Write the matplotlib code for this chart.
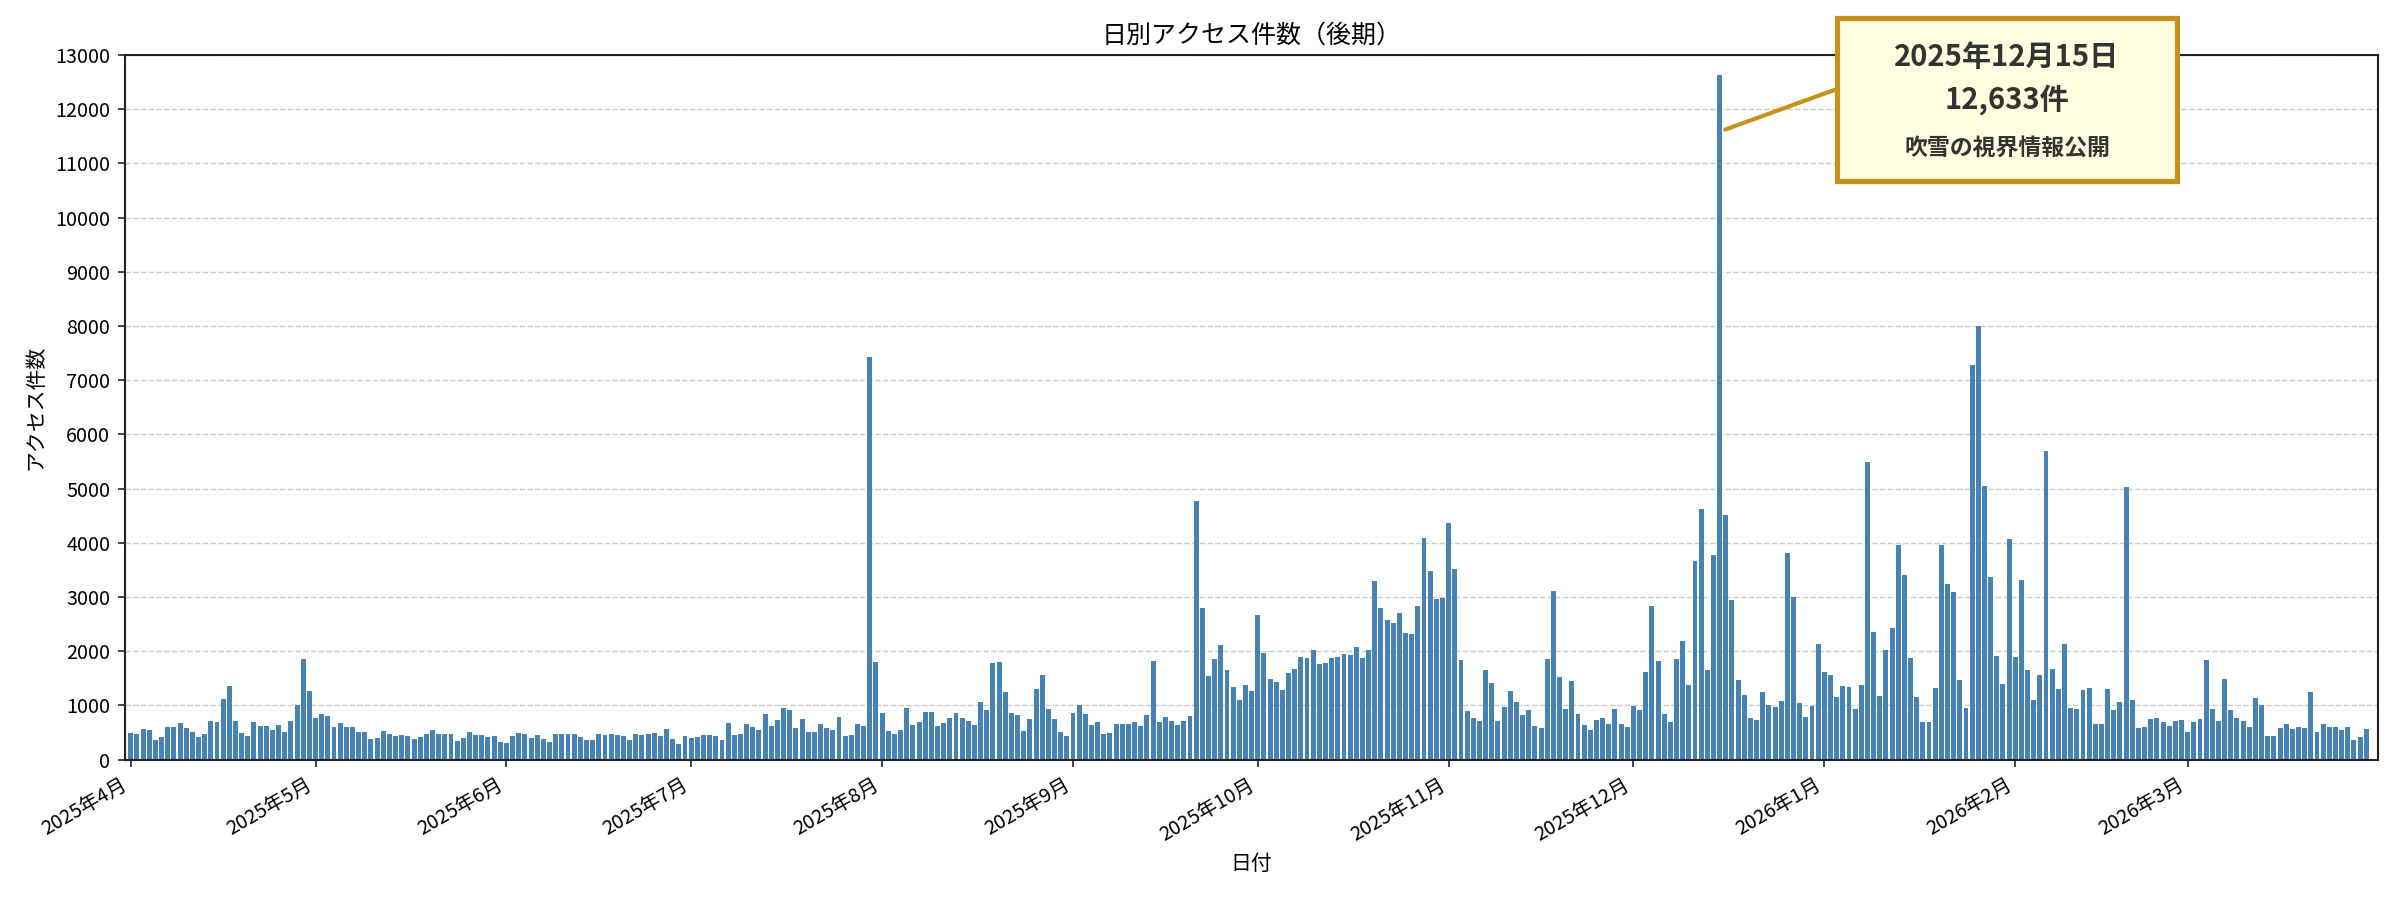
import numpy as np
import pandas as pd
import matplotlib
matplotlib.use('Agg')
import matplotlib.pyplot as plt
import matplotlib.dates as mdates
from matplotlib.patches import Rectangle
from matplotlib.ticker import FuncFormatter, MultipleLocator, FixedLocator

plt.rcParams['font.family'] = ['Noto Sans CJK JP', 'DejaVu Sans']

start_date = '2025-04-01'

apr = [487, 469, 561, 543, 358, 413, 598, 598, 672, 580, 506, 413, 469, 709, 691,
       1117, 1358, 709, 487, 432, 691, 617, 617, 543, 635, 506, 709, 1006, 1857, 1265]
may = [765, 839, 802, 598, 672, 598, 598, 506, 506, 376, 395, 524, 469, 432, 450, 432,
       376, 413, 469, 543, 469, 469, 469, 339, 395, 506, 450, 450, 413, 432, 321]
jun = [302, 432, 487, 469, 395, 450, 376, 321, 469, 469, 469, 469, 413, 358, 358, 469,
       450, 469, 450, 432, 358, 469, 450, 469, 487, 432, 561, 376, 284, 432]
jul = [395, 413, 450, 450, 432, 358, 672, 450, 469, 654, 598, 543, 839, 617, 728, 950,
       913, 580, 746, 506, 506, 654, 580, 543, 783, 432, 450, 654, 617, 7420, 1801]
aug = [857, 524, 469, 543, 950, 635, 691, 876, 876, 617, 672, 765, 857, 765, 709, 635,
       1061, 913, 1783, 1801, 1246, 857, 820, 524, 746, 1302, 1561, 932, 746, 506, 432]
sep = [857, 1006, 839, 635, 691, 469, 487, 654, 654, 654, 691, 617, 820, 1820, 691, 783,
       709, 635, 709, 802, 4762, 2801, 1542, 1857, 2116, 1653, 1339, 1098, 1376, 1265]
oct_ = [2666, 1964, 1484, 1429, 1281, 1595, 1669, 1890, 1872, 2020, 1761, 1780, 1872, 1890,
        1946, 1927, 2075, 1872, 2020, 3294, 2796, 2574, 2518, 2703, 2334, 2315, 2833, 4089,
        3479, 2962, 2980]
nov = [4366, 3516, 1835, 893, 764, 708, 1650, 1410, 708, 967, 1262, 1059, 819, 911, 616,
       579, 1853, 3110, 1521, 930, 1447, 837, 634, 542, 727, 764, 653, 930, 653, 597]
dec = [985, 911, 1613, 2833, 1816, 837, 690, 1853, 2186, 1373, 3664, 4624, 1650, 3775,
       12633, 4513, 2943, 1466, 1188, 764, 727, 1244, 1004, 967, 1078, 3812, 2999, 1041,
       782, 985, 2131]
jan = [1613, 1558, 1151, 1355, 1336, 930, 1373, 5493, 2352, 1170, 2020, 2426, 3959, 3405,
       1872, 1151, 690, 690, 1318, 3959, 3239, 3091, 1466, 948, 7284, 8005, 5049, 3368,
       1909, 1392, 4070]
feb = [1890, 3313, 1650, 1096, 1558, 5696, 1669, 1299, 2131, 948, 930, 1281, 1318, 653,
       653, 1299, 911, 1059, 5031, 1096, 579, 597, 745, 764, 690, 616, 708, 727]
mar = [505, 691, 747, 1840, 932, 710, 1488, 914, 765, 710, 599, 1136, 1006, 432, 432, 580,
       654, 562, 599, 580, 1247, 506, 654, 599, 599, 543, 599, 358, 414, 562, 20]

title = '日別アクセス件数（後期）'
xlabel = '日付'
ylabel = 'アクセス件数'
note_line = '吹雪の視界情報公開'

counts = np.array(apr + may + jun + jul + aug + sep + oct_ + nov + dec + jan + feb + mar)
dates = pd.date_range(start_date, periods=len(counts), freq='D')
month_starts = [d for d in dates if d.day == 1]

fig = plt.figure(figsize=(16, 6), dpi=150)
ax = fig.add_axes([0.052, 0.156, 0.939, 0.783])

ax.bar(dates, counts, width=0.8, color='#4682b4', zorder=2)

ax.set_ylim(0, 13000)
ax.yaxis.set_major_locator(MultipleLocator(1000))
ax.set_xlim(mdates.date2num(dates[0]) - 0.97, mdates.date2num(dates[-1]) + 0.97)
ax.xaxis.set_major_locator(FixedLocator(mdates.date2num(month_starts)))
ax.xaxis.set_major_formatter(FuncFormatter(
    lambda v, p: f"{mdates.num2date(v).year}年{mdates.num2date(v).month}月"))
for lab in ax.get_xticklabels():
    lab.set_rotation(30)
    lab.set_ha('right')
ax.tick_params(axis='both', labelsize=9.5, color='#222222')
ax.grid(axis='y', linestyle='--', color='#cccccc', linewidth=0.7, zorder=0)
ax.set_axisbelow(True)
for s in ax.spines.values():
    s.set_color('#222222')
    s.set_linewidth(1.0)

ax.set_title(title, fontsize=12, pad=6)
ax.set_xlabel(xlabel, fontsize=10)
ax.set_ylabel(ylabel, fontsize=10)

# annotation for the peak
pk = int(np.argmax(counts))
pk_date = dates[pk]
pk_val = int(counts[pk])
box_left = 1837 / 2400
box_top = 1 - 18 / 900
box_w = 340 / 2400
box_h = 163 / 900
box_x_mid = box_left + box_w / 2
conn = fig.transFigure.transform((box_left, 1 - 89 / 900))
conn_data = ax.transData.inverted().transform(conn)
ax.annotate('', xy=(mdates.date2num(pk_date) + 0.9, pk_val * 0.92),
            xytext=(conn_data[0], conn_data[1]),
            arrowprops=dict(arrowstyle='-', color='#c8921a', lw=2.0,
                            shrinkA=0, shrinkB=0),
            annotation_clip=False, zorder=5)
fig.patches.append(Rectangle((box_left, box_top - box_h), box_w, box_h,
                             transform=fig.transFigure, facecolor='#fefee0',
                             edgecolor='#c8921a', linewidth=2.5, zorder=6))
fig.text(box_x_mid, 1 - 57 / 900,
         f"{pk_date.year}年{pk_date.month}月{pk_date.day}日",
         ha='center', va='center', fontsize=14, fontweight='bold', color='#333333', zorder=7)
fig.text(box_x_mid, 1 - 100 / 900, f"{pk_val:,}件",
         ha='center', va='center', fontsize=14, fontweight='bold', color='#333333', zorder=7)
fig.text(box_x_mid, 1 - 148 / 900, note_line,
         ha='center', va='center', fontsize=11, fontweight='bold', color='#333333', zorder=7)

fig.savefig('out.png', dpi=150)
